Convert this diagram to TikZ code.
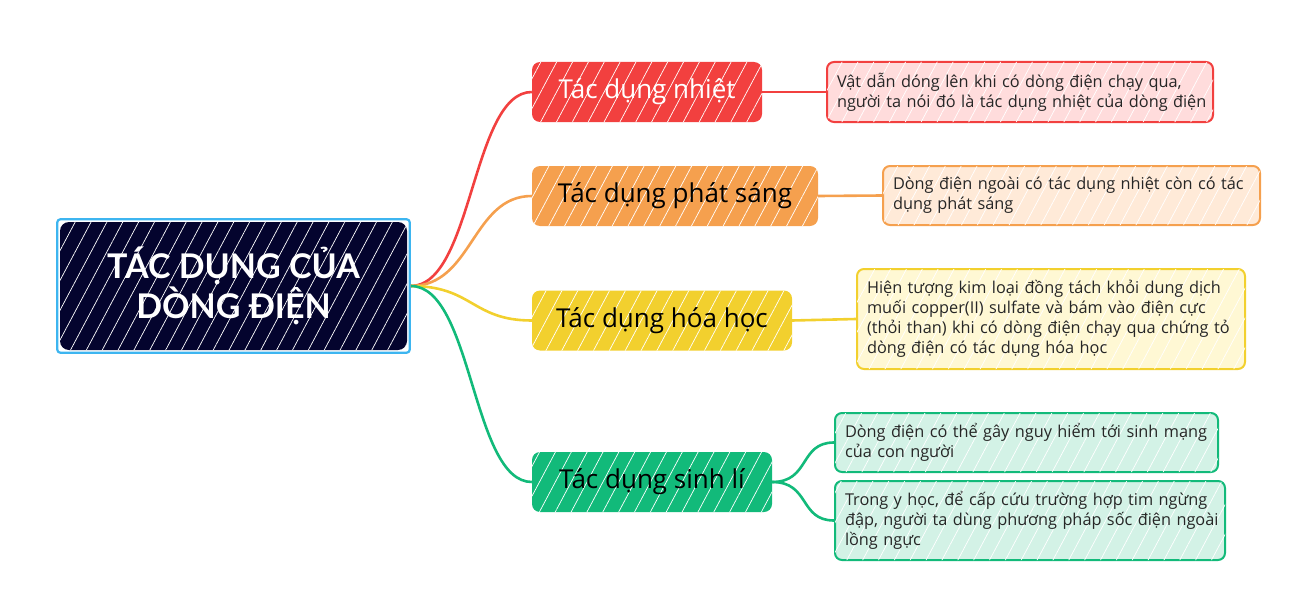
\documentclass[tikz,border=0pt]{standalone}
\usepackage{fontspec}
\setmainfont{Open Sans}
\newfontfamily\titlefont{Lato}
\usetikzlibrary{patterns.meta,fit}
\definecolor{navy}{HTML}{04042E}
\definecolor{frameblue}{HTML}{3DB5F0}
\definecolor{cred}{HTML}{F2403F}
\definecolor{corange}{HTML}{F5A04E}
\definecolor{cyellow}{HTML}{F2D02E}
\definecolor{cgreen}{HTML}{12BA7A}
\definecolor{lred}{HTML}{FFDCDC}
\definecolor{lorange}{HTML}{FFEAD8}
\definecolor{lyellow}{HTML}{FFF8D4}
\definecolor{lgreen}{HTML}{D3F2E6}
\tikzset{
  hatch/.style={postaction={pattern={Lines[angle=62,distance=14pt,line width=0.7pt]},pattern color=white,fill opacity=#1}},
  hatch/.default=0.4,
  branchbox/.style={rounded corners=8pt, minimum height=60pt, inner sep=0pt,
    font=\fontsize{26}{30}\selectfont, text=black, hatch},
  detailbox/.style={rounded corners=7pt, line width=2pt, align=left, inner xsep=10pt, inner ysep=4pt,
    font=\fontsize{16.3}{20}\selectfont, text=black!85, hatch=0.5},
  conn/.style={line width=2.6pt},
}
\begin{document}
\begin{tikzpicture}[x=1pt,y=-1pt]
\useasboundingbox (0,0) rectangle (1309,602);
% root
\node[fill=navy, rounded corners=9pt, minimum width=347pt, minimum height=128pt, inner sep=0pt,
      text=white, align=center, font=\titlefont\bfseries\fontsize{34}{40}\selectfont, hatch=0.5]
  (root) at (233.5,286) {TÁC DỤNG CỦA\\DÒNG ĐIỆN};
\node[fit=(root), inner sep=2.5pt, draw=frameblue, line width=2.2pt, rounded corners=3pt] (rootframe) {};
% branches
\node[branchbox, fill=cred, text=white, minimum width=230pt] (b1) at (647,92) {Tác dụng nhiệt};
\node[branchbox, fill=corange, minimum width=286pt] (b2) at (675,196) {Tác dụng phát sáng};
\node[branchbox, fill=cyellow, minimum width=260pt] (b3) at (662,320.5) {Tác dụng hóa học};
\node[branchbox, fill=cgreen, minimum width=240pt] (b4) at (652,482) {Tác dụng sinh lí};
% details
\node[detailbox, draw=cred, fill=lred, text width=366pt, minimum height=60pt] (d1) at (1020,92)
  {\mbox{Vật dẫn dóng lên khi có dòng điện chạy qua,}\\\mbox{người ta nói đó là tác dụng nhiệt của dòng điện}};
\node[detailbox, draw=corange, fill=lorange, text width=357pt, minimum height=59pt] (d2) at (1071.5,195.5)
  {\mbox{Dòng điện ngoài có tác dụng nhiệt còn có tác}\\\mbox{dụng phát sáng}};
\node[detailbox, draw=cyellow, fill=lyellow, text width=368pt, minimum height=100pt] (d3) at (1051,319)
  {\mbox{Hiện tượng kim loại đồng tách khỏi dung dịch}\\\mbox{muối copper(II) sulfate và bám vào điện cực}\\\mbox{(thỏi than) khi có dòng điện chạy qua chứng tỏ}\\\mbox{dòng điện có tác dụng hóa học}};
\node[detailbox, draw=cgreen, fill=lgreen, text width=363pt, minimum height=59pt] (d4a) at (1026.5,442.5)
  {\mbox{Dòng điện có thể gây nguy hiểm tới sinh mạng}\\\mbox{của con người}};
\node[detailbox, draw=cgreen, fill=lgreen, text width=370pt, minimum height=79pt] (d4b) at (1030,520.5)
  {\mbox{Trong y học, để cấp cứu trường hợp tim ngừng}\\\mbox{đập, người ta dùng phương pháp sốc điện ngoài}\\\mbox{lồng ngực}};
% connectors
\draw[conn, cred] (rootframe.east) .. controls +(62,0) and +(-60,0) .. (b1.west);
\draw[conn, corange] (rootframe.east) .. controls +(62,0) and +(-60,0) .. (b2.west);
\draw[conn, cyellow] (rootframe.east) .. controls +(62,0) and +(-60,0) .. (b3.west);
\draw[conn, cgreen] (rootframe.east) .. controls +(62,0) and +(-60,0) .. (b4.west);
\draw[conn, cred] (b1.east) -- (d1.west);
\draw[conn, corange] (b2.east) -- (d2.west);
\draw[conn, cyellow] (b3.east) -- (d3.west);
\draw[conn, cgreen] (b4.east) .. controls +(38,0) and +(-35,0) .. (d4a.west);
\draw[conn, cgreen] (b4.east) .. controls +(38,0) and +(-35,0) .. (d4b.west);
\end{tikzpicture}
\end{document}
